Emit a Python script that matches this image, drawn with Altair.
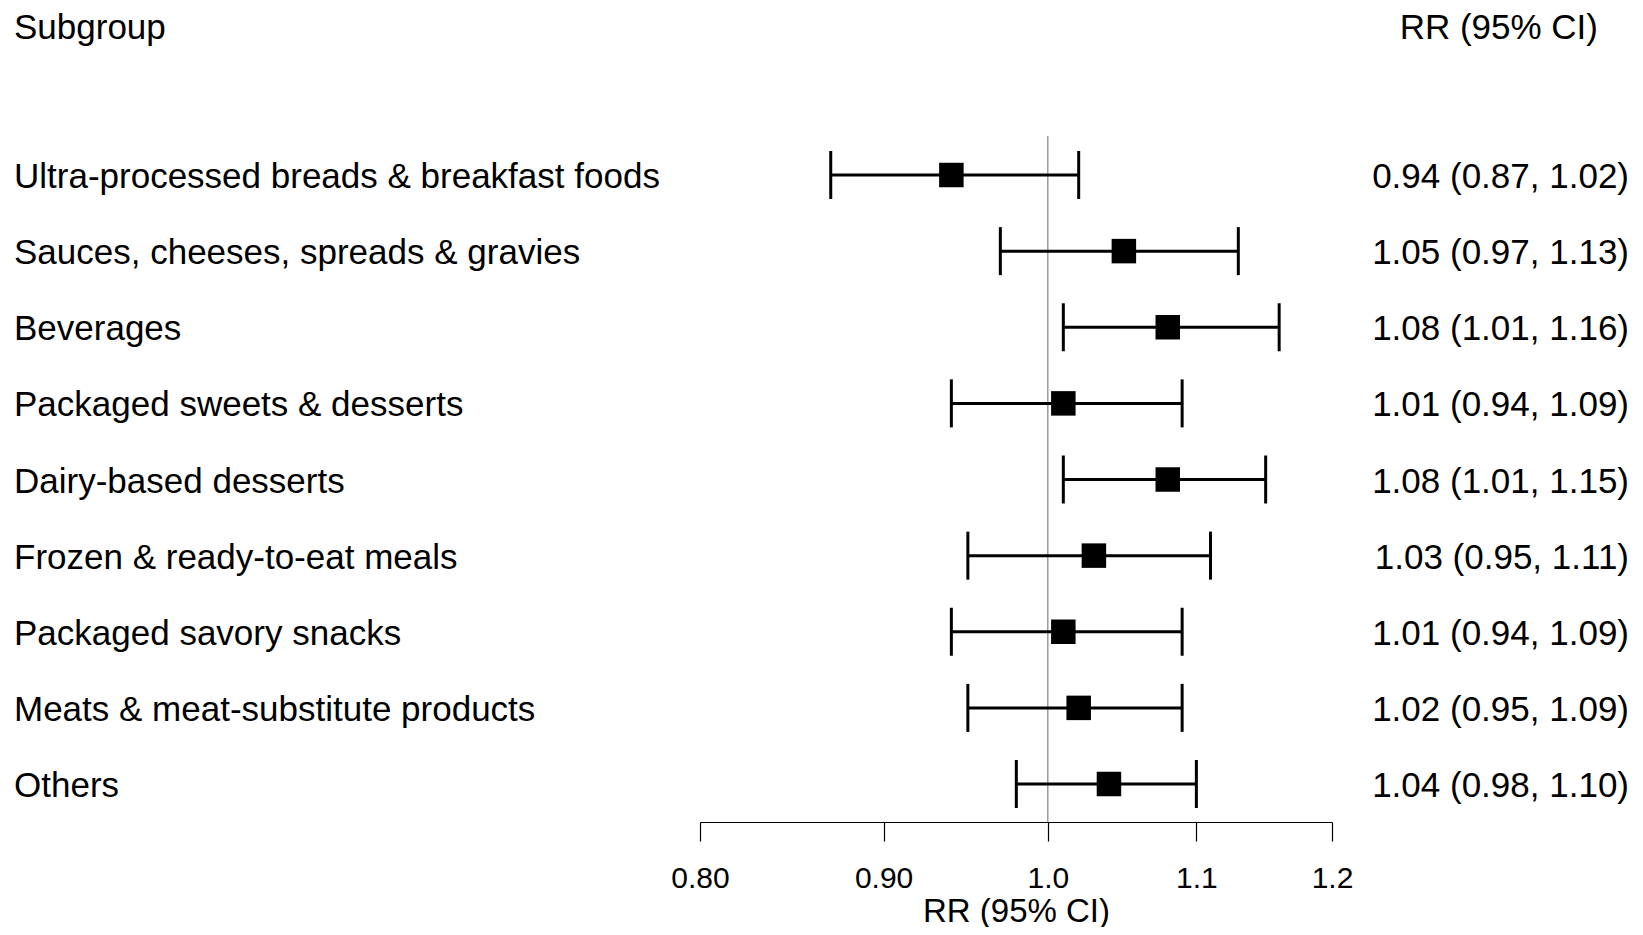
import altair as alt
import pandas as pd

groups = [
    "Ultra-processed breads & breakfast foods",
    "Sauces, cheeses, spreads & gravies",
    "Beverages",
    "Packaged sweets & desserts",
    "Dairy-based desserts",
    "Frozen & ready-to-eat meals",
    "Packaged savory snacks",
    "Meats & meat-substitute products",
    "Others",
]
rr = [0.94, 1.05, 1.08, 1.01, 1.08, 1.03, 1.01, 1.02, 1.04]
lo = [0.87, 0.97, 1.01, 0.94, 1.01, 0.95, 0.94, 0.95, 0.98]
hi = [1.02, 1.13, 1.16, 1.09, 1.15, 1.11, 1.09, 1.09, 1.10]
ci_text = [
    "0.94 (0.87, 1.02)",
    "1.05 (0.97, 1.13)",
    "1.08 (1.01, 1.16)",
    "1.01 (0.94, 1.09)",
    "1.08 (1.01, 1.15)",
    "1.03 (0.95, 1.11)",
    "1.01 (0.94, 1.09)",
    "1.02 (0.95, 1.09)",
    "1.04 (0.98, 1.10)",
]
tick_values = [0.8, 0.9, 1.0, 1.1, 1.2]
tick_labels = ["0.80", "0.90", "1.0", "1.1", "1.2"]

df = pd.DataFrame({"group": groups, "rr": rr, "lo": lo, "hi": hi, "ci": ci_text})

FONT = "Liberation Sans"
W, H = 1627, 814
PAD_BOTTOM = 105

label_expr = " : ".join(
    f"datum.value == {v} ? '{t}'" for v, t in zip(tick_values, tick_labels)
) + " : ''"

xscale = alt.Scale(type="log", domain=[0.8, 1.2], range=[692, 1324], nice=False)
yscale = alt.Scale(type="point", range=[167, 776], padding=0)
yenc = alt.Y("group:N", sort=groups, scale=yscale, axis=None)

base = alt.Chart(df)

xaxis = alt.Axis(
    values=tick_values,
    labelExpr=label_expr,
    title="RR (95% CI)",
    grid=False,
    domainColor="black",
    domainWidth=1.2,
    tickColor="black",
    tickWidth=1.2,
    tickSize=19,
    labelFont=FONT,
    labelFontSize=30,
    labelColor="black",
    labelPadding=22,
    labelFlush=False,
    labelOverlap=False,
    titleFont=FONT,
    titleFontSize=33,
    titleFontWeight="normal",
    titleColor="black",
    titleBaseline="alphabetic",
    titleY=99,
)

ref = alt.Chart(pd.DataFrame({"x": [1.0]})).mark_rule(
    color="#8a8a8a", strokeWidth=1.3
).encode(
    x=alt.X("x:Q", scale=xscale, axis=xaxis),
    y=alt.value(128),
    y2=alt.value(814),
)

bars = base.mark_rule(color="black", strokeWidth=3, opacity=1).encode(
    x=alt.X("lo:Q", scale=xscale),
    x2="hi:Q",
    y=yenc,
)

cap_lo = base.mark_tick(
    color="black", thickness=3, size=48, orient="vertical", opacity=1
).encode(x=alt.X("lo:Q", scale=xscale), y=yenc)
cap_hi = base.mark_tick(
    color="black", thickness=3, size=48, orient="vertical", opacity=1
).encode(x=alt.X("hi:Q", scale=xscale), y=yenc)

pts = base.mark_square(color="black", opacity=1, size=600).encode(
    x=alt.X("rr:Q", scale=xscale), y=yenc
)

left_text = base.mark_text(
    align="left", baseline="middle", font=FONT, fontSize=35, color="black", dy=2
).encode(x=alt.value(6), y=yenc, text="group:N")

right_text = base.mark_text(
    align="right", baseline="middle", font=FONT, fontSize=35, color="black", dy=2
).encode(x=alt.value(1621), y=yenc, text="ci:N")

headers = pd.DataFrame({"t": ["Subgroup", "RR (95% CI)"], "pos": ["left", "right"]})
head_left = alt.Chart(headers[headers.pos == "left"]).mark_text(
    align="left", baseline="middle", font=FONT, fontSize=35, color="black"
).encode(x=alt.value(6), y=alt.value(20), text="t:N")
head_right = alt.Chart(headers[headers.pos == "right"]).mark_text(
    align="right", baseline="middle", font=FONT, fontSize=35, color="black"
).encode(x=alt.value(1590), y=alt.value(20), text="t:N")

chart = alt.layer(
    ref, bars, cap_lo, cap_hi, pts, left_text, right_text, head_left, head_right
).properties(
    width=W,
    height=H,
    autosize=alt.AutoSizeParams(type="none"),
    padding={"left": 0, "top": 0, "right": 0, "bottom": PAD_BOTTOM},
    background="white",
).configure_view(stroke=None)

chart.save("out.html", embed_options={"renderer": "svg", "actions": False})
